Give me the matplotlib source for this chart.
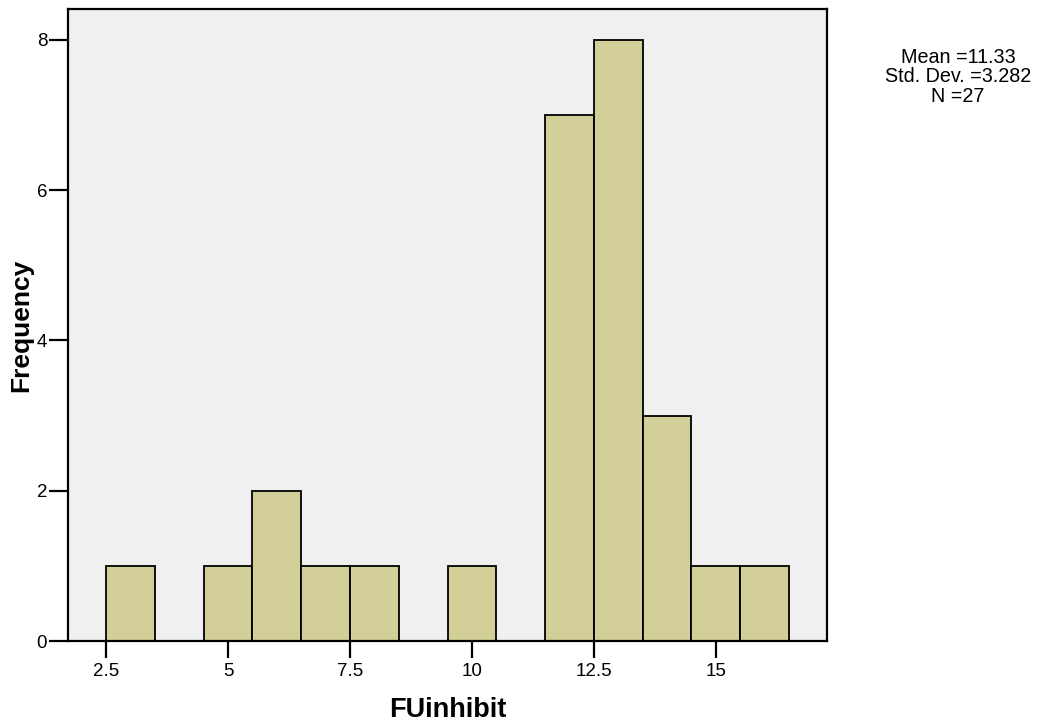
import matplotlib.pyplot as plt

plt.rcParams['font.family'] = ['Liberation Sans', 'DejaVu Sans']

x_label = "FUinhibit"
y_label = "Frequency"

bin_centers = [3, 4, 5, 6, 7, 8, 9, 10, 11, 12, 13, 14, 15, 16]
counts = [1, 0, 1, 2, 1, 1, 0, 1, 0, 7, 8, 3, 1, 1]

x_ticks = [2.5, 5, 7.5, 10, 12.5, 15]
x_tick_labels = ["2.5", "5", "7.5", "10", "12.5", "15"]
y_ticks = [0, 2, 4, 6, 8]

stats_text = "Mean =11.33\nStd. Dev. =3.282\nN =27"

fig = plt.figure(figsize=(10.4, 7.28), dpi=100)
ax = fig.add_axes([68 / 1040, 1 - 641 / 728, (827 - 68) / 1040, (641 - 9) / 728])
ax.set_facecolor('#f0f0f0')

ax.bar(bin_centers, counts, width=1.0, color='#d3cf98', edgecolor='black', linewidth=1.3)

ax.set_xlim(1.72, 17.28)
ax.set_ylim(0, 8.41)
ax.set_xticks(x_ticks, x_tick_labels)
ax.set_yticks(y_ticks)
ax.tick_params(direction='out', width=1.6, labelsize=13.5)
ax.tick_params(axis='x', length=12, pad=4)
ax.tick_params(axis='y', length=14, pad=1)

for side in ax.spines.values():
    side.set_linewidth(1.6)

ax.set_xlabel(x_label, fontsize=19.5, fontweight='bold')
ax.set_ylabel(y_label, fontsize=19, fontweight='bold')
ax.xaxis.set_label_coords(0.5, (641 - 710) / 632)
ax.xaxis.label.set_va('center')
ax.yaxis.set_label_coords((21.5 - 68) / 759, 0.5)
ax.yaxis.label.set_va('center')

fig.text(958 / 1040, 1 - 48 / 728, stats_text, ha='center', va='top', fontsize=14.2, linespacing=1.02)

plt.savefig('out.png', dpi=100)
